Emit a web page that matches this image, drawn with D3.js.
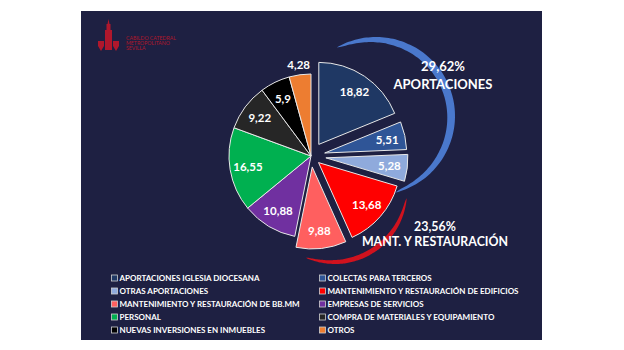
<!DOCTYPE html>
<html><head><meta charset="utf-8">
<script src="https://cdn.jsdelivr.net/npm/d3@7"></script>
<style>html,body{margin:0;padding:0;background:#fff;}svg{display:block;}</style>
</head><body>
<svg id="c" width="624" height="350"></svg>
<script>
// ---- data ----
const categories = [
  "APORTACIONES IGLESIA DIOCESANA",
  "COLECTAS PARA TERCEROS",
  "OTRAS APORTACIONES",
  "MANTENIMIENTO Y RESTAURACIÓN DE EDIFICIOS",
  "MANTENIMIENTO Y RESTAURACIÓN DE BB.MM",
  "EMPRESAS DE SERVICIOS",
  "PERSONAL",
  "COMPRA DE MATERIALES Y EQUIPAMIENTO",
  "NUEVAS INVERSIONES EN INMUEBLES",
  "OTROS"
];
const values = [18.82, 5.51, 5.28, 13.68, 9.88, 10.88, 16.55, 9.22, 5.9, 4.28];
const groupNames = ["APORTACIONES", "MANT. Y RESTAURACIÓN"];
const groupPercents = [29.62, 23.56];
const logoLines = ["CABILDO CATEDRAL", "METROPOLITANO", "SEVILLA"];

// ---- styles / layout ----
const colors = ["#1F3864","#2F5597","#8FAADC","#FF0000","#FF5F5F","#7030A0","#00B050","#262626","#000000","#ED7D31"];
const explode = [14, 14, 15, 10, 11, 0, 0, 0, 0, 0];
const FONT = "Lato, 'Open Sans', sans-serif";
const fmt = v => String(v).replace(".", ",");

const svg = d3.select("#c");
svg.append("rect").attr("x",81).attr("y",11).attr("width",461).attr("height",329).attr("fill","#1E2042");

// logo
const logo = svg.append("g").attr("fill","#B0172C");
logo.append("path").attr("d","M108.5,19 L109.5,24 L110.5,24 L110.5,30 L112,30 L112,50 L105,50 L105,30 L106.5,30 L106.5,24 L107.5,24 Z");
logo.append("path").attr("d","M98,41 L104,41 L104,46 L101,51 L98,46 Z");
logo.append("path").attr("d","M113,41 L119,41 L119,46 L116,51 L113,46 Z");
logo.selectAll("text").data(logoLines).join("text")
  .attr("x",126).attr("y",(d,i)=>[40,45,50][i])
  .attr("font-family",FONT).attr("font-size",5.2).text(d=>d);

// crescents
function crescent(cx, cy, r, a0, a1, tmax, color){
  const n = 60;
  const pts = d3.range(n+1).map(i => i/n);
  const area = d3.areaRadial()
    .angle(u => (a0 + (a1-a0)*u) * Math.PI/180)
    .outerRadius(r)
    .innerRadius(u => r - tmax*Math.pow(Math.sin(Math.PI*u),0.55))
    .curve(d3.curveCatmullRom);
  svg.append("path").attr("transform",`translate(${cx},${cy})`).attr("d",area(pts)).attr("fill",color);
}
crescent(376,116,79,-30,166,8,"#4A78CC");
crescent(335,192,72,95,204,5,"#D0121E");

// pie
const cx = 311, cy = 156, R = 82;
const pie = d3.pie().sort(null).value(d=>d.v);
const arcs = pie(values.map((v,i)=>({v,i})));
const arc = d3.arc().innerRadius(0).outerRadius(R);
const labelArc = d3.arc().innerRadius(64).outerRadius(64);
const outArc = d3.arc().innerRadius(92).outerRadius(92);
const g = svg.append("g").attr("transform",`translate(${cx},${cy})`);
const off = d => {
  const m = (d.startAngle+d.endAngle)/2, e = explode[d.index];
  return [Math.sin(m)*e, -Math.cos(m)*e];
};
const slice = g.selectAll("g.s").data(arcs).join("g").attr("class","s")
  .attr("transform",d=>`translate(${off(d)})`);
slice.append("path").attr("d",arc).attr("fill",(d,i)=>colors[i])
  .attr("stroke","#E8E8E8").attr("stroke-width",1).attr("stroke-linejoin","round");
slice.append("text")
  .attr("transform",(d,i)=>`translate(${(i===9?outArc:labelArc).centroid(d)})`)
  .attr("text-anchor","middle").attr("dominant-baseline","central")
  .attr("font-family",FONT).attr("font-weight",700).attr("font-size",11.5)
  .attr("fill","#fff").text(d=>fmt(d.data.v));

// group labels
const glab = svg.append("g").attr("font-family",FONT).attr("font-weight",700).attr("fill","#fff").attr("text-anchor","middle");
const gpos = [[443,66,84,13],[435,226,241,12.4]];
groupNames.forEach((n,i)=>{
  glab.append("text").attr("x",gpos[i][0]).attr("y",gpos[i][1]).attr("font-size",gpos[i][3]).attr("dominant-baseline","central").text(fmt(groupPercents[i])+"%");
  glab.append("text").attr("x",gpos[i][0]).attr("y",gpos[i][2]).attr("font-size",gpos[i][3]).attr("dominant-baseline","central").text(n);
});

// legend
const leg = svg.append("g");
const item = leg.selectAll("g").data(categories).join("g")
  .attr("transform",(d,i)=>`translate(${i%2===0?111:319},${278+Math.floor(i/2)*13})`);
item.append("rect").attr("x",0.5).attr("y",-3).attr("width",6).attr("height",6)
  .attr("fill",(d,i)=>colors[i]).attr("stroke","#D0D0D0").attr("stroke-width",0.8);
item.append("text").attr("x",8.5).attr("y",0).attr("dominant-baseline","central")
  .attr("font-family",FONT).attr("font-weight",700).attr("font-size",8).attr("fill","#fff").text(d=>d);
</script>
</body></html>
